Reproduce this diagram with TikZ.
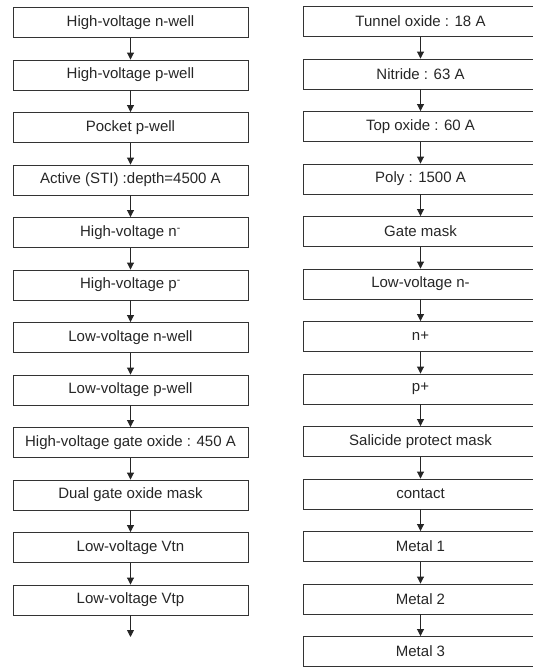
\documentclass[tikz,border=0pt]{standalone}
\usepackage{fontspec}
\setmainfont{Liberation Sans}
\usetikzlibrary{arrows.meta}
\begin{document}
\begin{tikzpicture}[x=1pt,y=-1pt,
  stepbox/.style={draw=black!80,line width=0.9pt,minimum width=235pt,minimum height=30pt,inner sep=0pt,
    font=\fontsize{15}{18}\selectfont,text=black!85},
  flow/.style={draw=black!85,line width=0.9pt,-{Triangle[length=7pt,width=7pt]}}]
\useasboundingbox (0,0) rectangle (533,667);
\foreach \t [count=\i from 0] in {High-voltage n-well,High-voltage p-well,Pocket p-well,Active (STI) :depth=4500 A,High-voltage n\textsuperscript{-},High-voltage p\textsuperscript{-},Low-voltage n-well,Low-voltage p-well,High-voltage gate oxide : 450 A,Dual gate oxide mask,Low-voltage Vtn,Low-voltage Vtp}
  \node[stepbox] (L\i) at (130.5,{22.5+52.5*\i}) {\t};
\foreach \t [count=\i from 0] in {Tunnel oxide : 18 A,Nitride : 63 A,Top oxide : 60 A,Poly : 1500 A,Gate mask,Low-voltage n-,n+,p+,Salicide protect mask,contact,Metal 1,Metal 2,Metal 3}
  \node[stepbox] (R\i) at (420.5,{21.5+52.5*\i}) {\t};
\foreach \i [evaluate=\i as \j using int(\i+1)] in {0,...,10}
  \draw[flow] (L\i.south) -- (L\j.north);
\foreach \i [evaluate=\i as \j using int(\i+1)] in {0,...,11}
  \draw[flow] (R\i.south) -- (R\j.north);
\coordinate (Lend) at (130.5,637);
\draw[flow] (L11.south) -- (Lend);
\end{tikzpicture}
\end{document}
